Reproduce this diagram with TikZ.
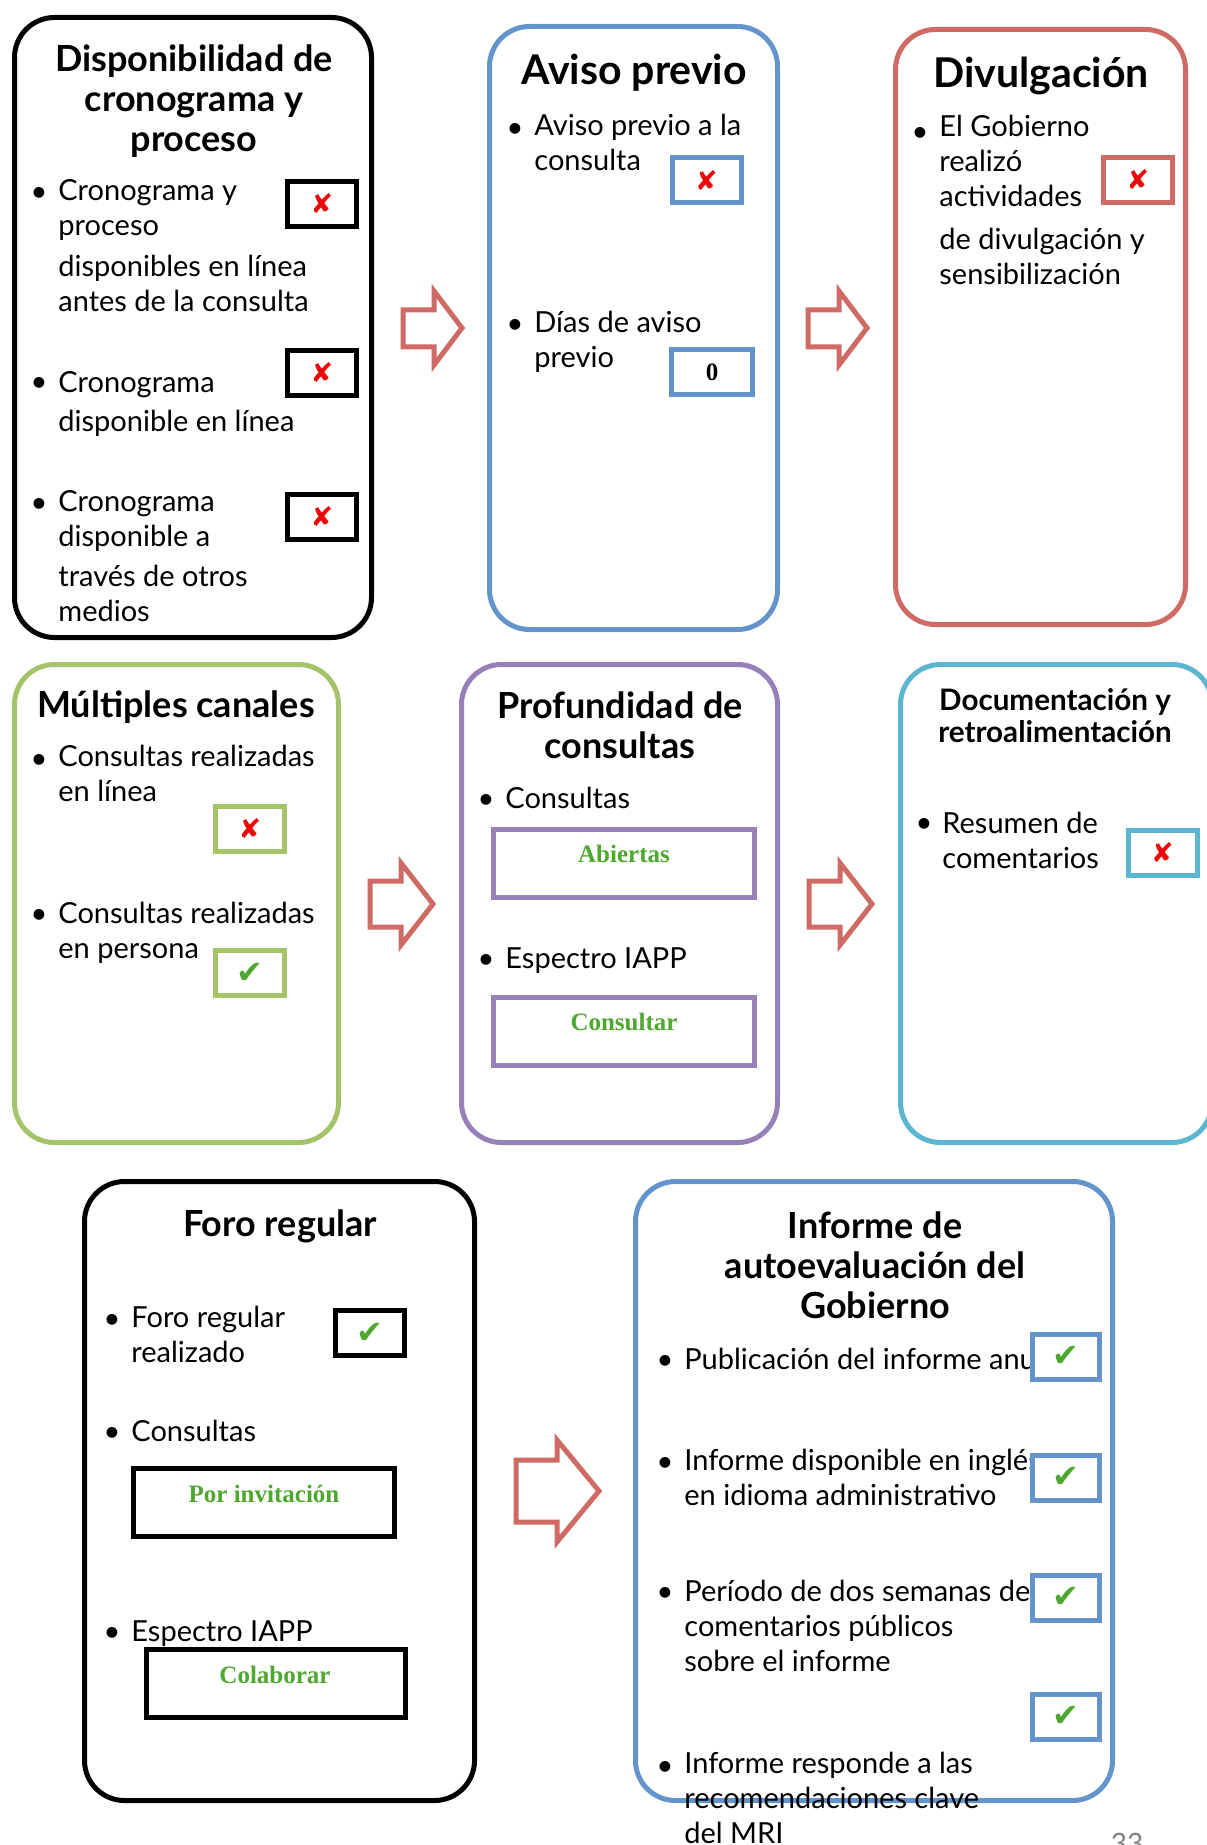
\documentclass[tikz,border=0pt]{standalone}
\usepackage{fontspec}
\setmainfont{Lato}
\newfontfamily\valuefont{Liberation Serif}
\newfontfamily\markfont{DejaVu Sans}

\definecolor{blueline}{RGB}{99,148,203}
\definecolor{redline}{RGB}{208,106,101}
\definecolor{greenline}{RGB}{163,196,104}
\definecolor{purpleline}{RGB}{151,127,183}
\definecolor{cyanline}{RGB}{92,182,208}
\definecolor{okgreen}{RGB}{78,167,46}
\definecolor{nored}{RGB}{235,10,10}

\newcommand\okmark{{\fontsize{16}{16}\markfont\color{okgreen}✔}}
\newcommand\nomark{{\fontsize{13.5}{14}\markfont\color{nored}✘}}

\tikzset{
  panel/.style={line width=2.5pt, rounded corners=20pt},
  bigarrow/.style={draw=redline, line width=2.5pt, fill=white},
  heading/.style={anchor=base, align=center, inner sep=0pt, font=\fontsize{18}{20}\selectfont\bfseries},
  itemtext/.style={anchor=base west, align=left, inner sep=0pt, font=\fontsize{14.5}{17.5}\selectfont},
  bulletmark/.style={anchor=base, inner sep=0pt, font=\fontsize{14.5}{17.5}\selectfont},
  markbox/.style={draw, line width=2.5pt, fill=white, minimum width=34.5pt, minimum height=22.5pt, inner sep=0pt},
  widebox/.style={draw, line width=2.5pt, minimum width=130.5pt, minimum height=34pt},
  valuetext/.style={inner sep=0pt, text=okgreen, font=\fontsize{12.5}{14}\valuefont\bfseries},
}

\begin{document}
\begin{tikzpicture}[x=0.5pt, y=-0.5pt]
  \path[fill=white, use as bounding box] (0,0) rectangle (1206,1845);

  % first row
  \draw[panel, draw=black] (14.5,17.5) rectangle (371.5,637.5);
  \draw[panel, draw=blueline] (489.5,26.5) rectangle (777.5,629.5);
  \draw[panel, draw=redline] (895.5,29.5) rectangle (1185.5,624.5);

  \draw[bigarrow] (403,310) -- ++(31,0) -- ++(0,-19) -- ++(28,37) -- ++(-28,37) -- ++(0,-18) -- ++(-31,0) -- cycle;
  \draw[bigarrow] (808,310) -- ++(31,0) -- ++(0,-19) -- ++(28,37) -- ++(-28,37) -- ++(0,-18) -- ++(-31,0) -- cycle;

  \node[heading] (t1) at (194,152) {Disponibilidad de\\cronograma y\\proceso};
  \node[bulletmark] (b11) at (39,202) {\textbullet};
  \node[itemtext] (i11) at (58,312) {Cronograma y\\proceso\\[3pt]disponibles en línea\\antes de la consulta};
  \node[bulletmark] (b12) at (39,392) {\textbullet};
  \node[itemtext] (i12) at (58,432) {Cronograma\\[2.5pt]disponible en línea};
  \node[bulletmark] (b13) at (39,512) {\textbullet};
  \node[itemtext] (i13) at (58,621) {Cronograma\\disponible a\\[2.5pt]través de otros\\medios};
  \node[markbox, draw=black] (m11) at (322,204) {\nomark};
  \node[markbox, draw=black] (m12) at (322,373) {\nomark};
  \node[markbox, draw=black] (m13) at (322,517) {\nomark};

  \node[heading, font=\fontsize{20.5}{22}\selectfont\bfseries] (t2) at (634,85) {Aviso previo};
  \node[bulletmark] (b21) at (515,138) {\textbullet};
  \node[itemtext] (i21) at (534,171) {Aviso previo a la\\consulta};
  \node[bulletmark] (b22) at (515,334) {\textbullet};
  \node[itemtext] (i22) at (534,368) {Días de aviso\\previo};
  \node[markbox, draw=blueline] (m21) at (706.5,180.5) {\nomark};
  \node[markbox, draw=blueline, minimum width=40.5pt, font=\fontsize{12.5}{14}\valuefont\bfseries] (m22) at (712,372.5) {0};

  \node[heading, font=\fontsize{20.5}{22}\selectfont\bfseries] (t3) at (1041,88) {Divulgación};
  \node[bulletmark] (b31) at (920,142) {\textbullet};
  \node[itemtext] (i31) at (939,285) {El Gobierno\\realizó\\actividades\\[4pt]de divulgación y\\sensibilización};
  \node[markbox, draw=redline] (m31) at (1138,180) {\nomark};

  % second row
  \draw[panel, draw=greenline] (14.5,664.5) rectangle (338.5,1142.5);
  \draw[panel, draw=purpleline] (461.5,664.5) rectangle (777.5,1142.5);
  \draw[panel, draw=cyanline] (900.5,664.5) rectangle (1212,1142.5);

  \draw[bigarrow] (370,881) -- ++(31,0) -- ++(0,-18) -- ++(32,41) -- ++(-32,41) -- ++(0,-18) -- ++(-31,0) -- cycle;
  \draw[bigarrow] (809,881) -- ++(31,0) -- ++(0,-18) -- ++(32,41) -- ++(-32,41) -- ++(0,-18) -- ++(-31,0) -- cycle;

  \node[heading] (t4) at (176,717) {Múltiples canales};
  \node[bulletmark] (b41) at (39,768) {\textbullet};
  \node[itemtext] (i41) at (58,801) {Consultas realizadas\\en línea};
  \node[bulletmark] (b42) at (39,923) {\textbullet};
  \node[itemtext] (i42) at (58,958) {Consultas realizadas\\en persona};
  \node[markbox, draw=greenline] (m41) at (250,829) {\nomark};
  \node[markbox, draw=greenline] (m42) at (250,973) {\okmark};

  \node[heading] (t5) at (620,758) {Profundidad de\\consultas};
  \node[bulletmark] (b51) at (486,808) {\textbullet};
  \node[itemtext] (i51) at (505,808) {Consultas};
  \node[widebox, draw=purpleline] (w51) at (624,863.5) {};
  \node[valuetext] (v51) at (624,854) {Abiertas};
  \node[bulletmark] (b52) at (486,968) {\textbullet};
  \node[itemtext] (i52) at (505,968) {Espectro IAPP};
  \node[widebox, draw=purpleline] (w52) at (624,1031) {};
  \node[valuetext] (v52) at (624,1022) {Consultar};

  \node[heading, font=\fontsize{14.8}{16}\selectfont\bfseries] (t6) at (1055,742) {Documentación y\\retroalimentación};
  \node[bulletmark] (b61) at (924,832) {\textbullet};
  \node[itemtext] (i61) at (942,868) {Resumen de\\comentarios};
  \node[markbox, draw=cyanline] (m61) at (1162.5,852.5) {\nomark};

  % third row
  \draw[panel, draw=black] (84.5,1181.5) rectangle (474.5,1800.5);
  \draw[panel, draw=blueline] (635.5,1181.5) rectangle (1112.5,1800.5);

  \draw[bigarrow] (516,1460) -- ++(41,0) -- ++(0,-20) -- ++(42,51) -- ++(-42,51) -- ++(0,-20) -- ++(-41,0) -- cycle;

  \node[heading] (t7) at (280,1236) {Foro regular};
  \node[bulletmark] (b71) at (112,1328) {\textbullet};
  \node[itemtext] (i71) at (131,1362) {Foro regular\\realizado};
  \node[markbox, draw=black] (m71) at (370,1333) {\okmark};
  \node[bulletmark] (b72) at (112,1441) {\textbullet};
  \node[itemtext] (i72) at (131,1441) {Consultas};
  \node[widebox, draw=black] (w72) at (264,1502.5) {};
  \node[valuetext] (v72) at (264,1494) {Por invitación};
  \node[bulletmark] (b73) at (112,1641) {\textbullet};
  \node[itemtext] (i73) at (131,1641) {Espectro IAPP};
  \node[widebox, draw=black, minimum width=129.5pt] (w73) at (276,1683.5) {};
  \node[valuetext] (v73) at (275,1675) {Colaborar};

  \node[heading] (t8) at (875,1318) {Informe de\\autoevaluación del\\Gobierno};
  \node[bulletmark] (b81) at (665,1369) {\textbullet};
  \node[itemtext] (i81) at (684,1369) {Publicación del informe anual};
  \node[bulletmark] (b82) at (665,1471) {\textbullet};
  \node[itemtext] (i82) at (684,1505) {Informe disponible en inglés y\\en idioma administrativo};
  \node[bulletmark] (b83) at (665,1601) {\textbullet};
  \node[itemtext] (i83) at (684,1671) {Período de dos semanas de\\comentarios públicos\\sobre el informe};
  \node[bulletmark] (b84) at (665,1775) {\textbullet};
  \node[itemtext] (i84) at (684,1843) {Informe responde a las\\recomendaciones clave\\del MRI};
  \node[markbox, draw=blueline, minimum width=33.5pt] (m81) at (1066,1356.5) {\okmark};
  \node[markbox, draw=blueline, minimum width=33.5pt] (m82) at (1066,1477.5) {\okmark};
  \node[markbox, draw=blueline, minimum width=33.5pt] (m83) at (1066,1597.5) {\okmark};
  \node[markbox, draw=blueline, minimum width=33.5pt] (m84) at (1066,1716.5) {\okmark};

  \node[anchor=north, inner sep=0pt, text=gray, font=\fontsize{14}{16}\selectfont] (pg) at (1127,1833) {33};
\end{tikzpicture}
\end{document}
